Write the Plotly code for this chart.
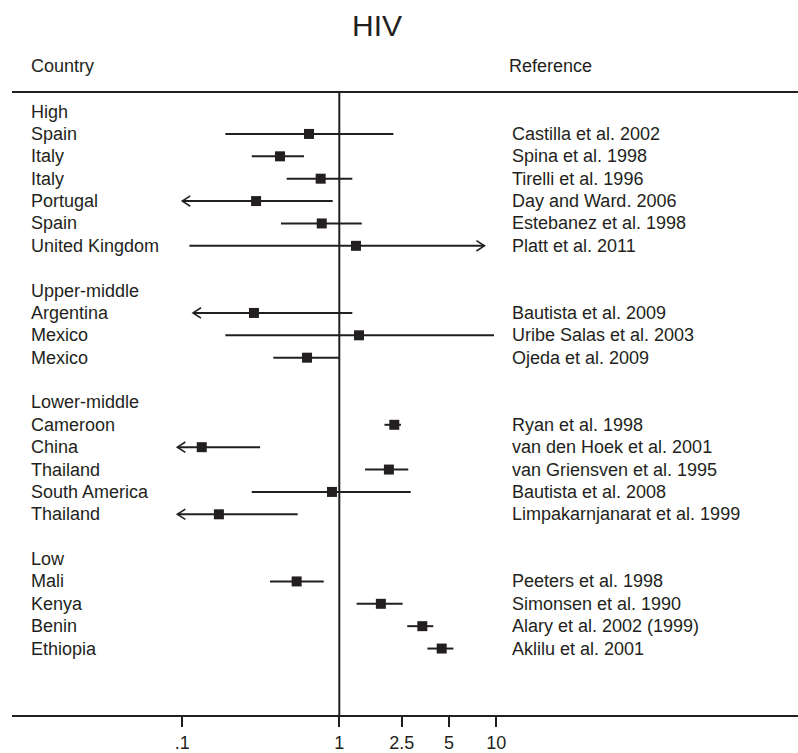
import plotly.graph_objects as go

# ---------------- data ----------------
group_names = ["High", "Upper-middle", "Lower-middle", "Low"]
group_sizes = [6, 3, 5, 4]

countries = [
    "Spain", "Italy", "Italy", "Portugal", "Spain", "United Kingdom",
    "Argentina", "Mexico", "Mexico",
    "Cameroon", "China", "Thailand", "South America", "Thailand",
    "Mali", "Kenya", "Benin", "Ethiopia",
]
references = [
    "Castilla et al. 2002", "Spina et al. 1998", "Tirelli et al. 1996",
    "Day and Ward. 2006", "Estebanez et al. 1998", "Platt et al. 2011",
    "Bautista et al. 2009", "Uribe Salas et al. 2003", "Ojeda et al. 2009",
    "Ryan et al. 1998", "van den Hoek et al. 2001", "van Griensven et al. 1995",
    "Bautista et al. 2008", "Limpakarnjanarat et al. 1999",
    "Peeters et al. 1998", "Simonsen et al. 1990", "Alary et al. 2002 (1999)",
    "Aklilu et al. 2001",
]
estimate = [0.641, 0.419, 0.761, 0.295, 0.773, 1.277,
            0.286, 1.335, 0.623,
            2.24, 0.133, 2.07, 0.898, 0.171,
            0.535, 1.84, 3.38, 4.49]
ci_low = [0.188, 0.277, 0.462, 0.100, 0.425, 0.111,
          0.117, 0.188, 0.380,
          1.94, 0.093, 1.46, 0.277, 0.093,
          0.362, 1.29, 2.71, 3.64]
ci_high = [2.21, 0.596, 1.21, 0.908, 1.39, 8.4,
           1.21, 9.67, 1.00,
           2.47, 0.313, 2.75, 2.85, 0.543,
           0.796, 2.53, 3.97, 5.33]
arrow_left = [False, False, False, True, False, False,
              True, False, False,
              False, True, False, False, True,
              False, False, False, False]
arrow_right = [False, False, False, False, False, True,
               False, False, False,
               False, False, False, False, False,
               False, False, False, False]

tick_vals = [0.1, 1, 2.5, 5, 10]
tick_text = [".1", "1", "2.5", "5", "10"]

title_text = "HIV"
col_headers = ["Country", "Reference"]

# ---------------- layout helpers ----------------
INK = "#231f20"
FONT = "Liberation Sans, Arial, Helvetica, sans-serif"

# row index for each study / group header
group_rows = []
study_rows = []
k = -1
for g, n in zip(group_names, group_sizes):
    group_rows.append(k)
    for i in range(n):
        study_rows.append(k + 1 + i)
    k += n + 2

# CI line segments
lx, ly = [], []
for lo, hi, r in zip(ci_low, ci_high, study_rows):
    lx += [lo, hi, None]
    ly += [r, r, None]

# arrow chevrons
ax_, ay_ = [], []
f = 1.124
dy = 0.23
for lo, hi, r, al, ar in zip(ci_low, ci_high, study_rows, arrow_left, arrow_right):
    if al:
        ax_ += [lo * f, lo, lo * f, None]
        ay_ += [r - dy, r, r + dy, None]
    if ar:
        ax_ += [hi / f, hi, hi / f, None]
        ay_ += [r - dy, r, r + dy, None]

fig = go.Figure()
fig.add_trace(go.Scatter(x=lx, y=ly, mode="lines",
                         line=dict(color=INK, width=2), hoverinfo="skip",
                         showlegend=False))
fig.add_trace(go.Scatter(x=ax_, y=ay_, mode="lines",
                         line=dict(color=INK, width=1.6), hoverinfo="skip",
                         showlegend=False))
fig.add_trace(go.Scatter(x=estimate, y=study_rows, mode="markers",
                         marker=dict(symbol="square", size=10, color=INK,
                                     line=dict(width=0)),
                         showlegend=False))

# vertical reference line at 1
fig.add_shape(type="line", xref="x", yref="paper", x0=1, x1=1, y0=0, y1=1,
              line=dict(color=INK, width=2))

ann = []
xc = 0.0216
xr = 0.6336
for g, r in zip(group_names, group_rows):
    ann.append(dict(text=g, x=xc, xref="paper", y=r, yref="y",
                    xanchor="left", yanchor="middle", showarrow=False))
for c, ref, r in zip(countries, references, study_rows):
    ann.append(dict(text=c, x=xc, xref="paper", y=r, yref="y",
                    xanchor="left", yanchor="middle", showarrow=False))
    ann.append(dict(text=ref, x=xr, xref="paper", y=r, yref="y",
                    xanchor="left", yanchor="middle", showarrow=False))
ann.append(dict(text=col_headers[0], x=xc, xref="paper", y=1.0433, yref="paper",
                xanchor="left", yanchor="middle", showarrow=False))
ann.append(dict(text=col_headers[1], x=xr - 0.004, xref="paper", y=1.0433, yref="paper",
                xanchor="left", yanchor="middle", showarrow=False))
ann.append(dict(text=title_text, x=0.4644, xref="paper", y=1.109, yref="paper",
                xanchor="center", yanchor="middle", showarrow=False,
                font=dict(size=30, color=INK, family=FONT)))

fig.update_layout(
    width=798, height=753,
    margin=dict(l=12, r=0, t=93, b=36),
    paper_bgcolor="white", plot_bgcolor="white",
    font=dict(family=FONT, size=18, color=INK),
    annotations=ann,
    showlegend=False,
    xaxis=dict(type="log", range=[-2.085, 2.922],
               showline=True, linewidth=2, linecolor=INK, mirror=True,
               ticks="outside", ticklen=10, tickwidth=2, tickcolor=INK,
               tickvals=tick_vals, ticktext=tick_text,
               showgrid=False, zeroline=False,
               tickfont=dict(size=18, color=INK, family=FONT)),
    yaxis=dict(range=[25.97, -1.83], visible=False, showgrid=False,
               zeroline=False),
)

fig.write_html("out.html",
               config={"displayModeBar": False},
               post_script="document.body.style.margin='0';"
                           "document.body.style.padding='0';"
                           "document.body.style.overflow='hidden';")
